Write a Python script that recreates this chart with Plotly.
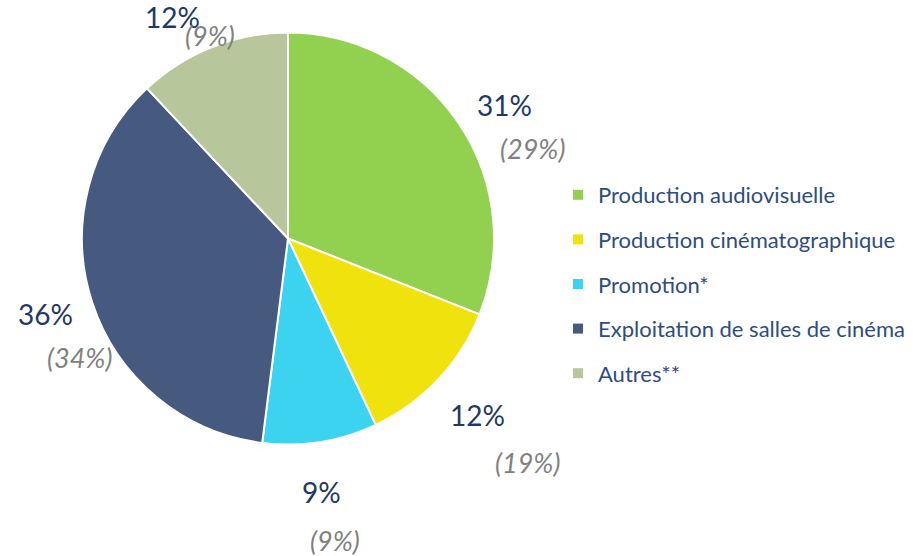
import math
import plotly.graph_objects as go

categories = ["Production audiovisuelle", "Production cinématographique", "Promotion*",
              "Exploitation de salles de cinéma", "Autres**"]
shares = [31, 12, 9, 36, 12]
shares_prev = [29, 19, 9, 34, 9]
colors = ["#92d050", "#f0e20c", "#3cd3f0", "#465a7f", "#b8c79b"]

W, H = 921, 556
CX, CY, R = 288, 238.5, 206
LABEL_DIST = 255
# fine pixel adjustments of the labels around the slice mid-angle
main_offsets = [(6, 10), (4, 2), (-6, 2), (0, -3), (-22, 16)]
prev_offsets = [(28, 43), (50, 47), (13, 48), (34, 43), (38, 18)]

fig = go.Figure()
fig.add_trace(go.Pie(
    values=shares, labels=categories, sort=False, direction="clockwise", rotation=0,
    marker=dict(colors=colors, line=dict(color="white", width=2)),
    textinfo="none", hoverinfo="label+percent", showlegend=False,
    domain=dict(x=[(CX - R) / W, (CX + R) / W], y=[1 - (CY + R) / H, 1 - (CY - R) / H]),
))

# legend via dummy traces so the rows can be spaced out
for name, c in zip(categories, colors):
    fig.add_trace(go.Scatter(
        x=[None], y=[None], mode="markers", name=name, legendgroup=name,
        marker=dict(symbol="square", size=10, color=c),
    ))

total = sum(shares)
acc = 0
for i, (v, p) in enumerate(zip(shares, shares_prev)):
    mid = (acc + v / 2) / total * 2 * math.pi
    acc += v
    px = CX + LABEL_DIST * math.sin(mid) + main_offsets[i][0]
    py = CY - LABEL_DIST * math.cos(mid) + main_offsets[i][1]
    fig.add_annotation(x=px / W, y=1 - py / H, xref="paper", yref="paper", text=f"{v}%",
                       showarrow=False, xanchor="center", yanchor="middle",
                       font=dict(size=28, color="#1f3864"))
    dx, dy = prev_offsets[i]
    fig.add_annotation(x=(px + dx) / W, y=1 - (py + dy) / H, xref="paper", yref="paper",
                       text=f"<i>({p}%)</i>", showarrow=False, xanchor="center", yanchor="middle",
                       font=dict(size=27, color="#808080"))

fig.update_layout(
    width=W, height=H, margin=dict(l=0, r=0, t=0, b=0),
    paper_bgcolor="white", plot_bgcolor="white",
    font=dict(family="Lato, Calibri, sans-serif"),
    xaxis=dict(visible=False), yaxis=dict(visible=False),
    legend=dict(x=558 / W, y=1 - 174 / H, xanchor="left", yanchor="top",
                font=dict(size=22, color="#2e4d7e"), tracegroupgap=13, itemclick=False),
)
fig.write_html("out.html", config={"displayModeBar": False},
               post_script="document.body.style.margin='0';")
